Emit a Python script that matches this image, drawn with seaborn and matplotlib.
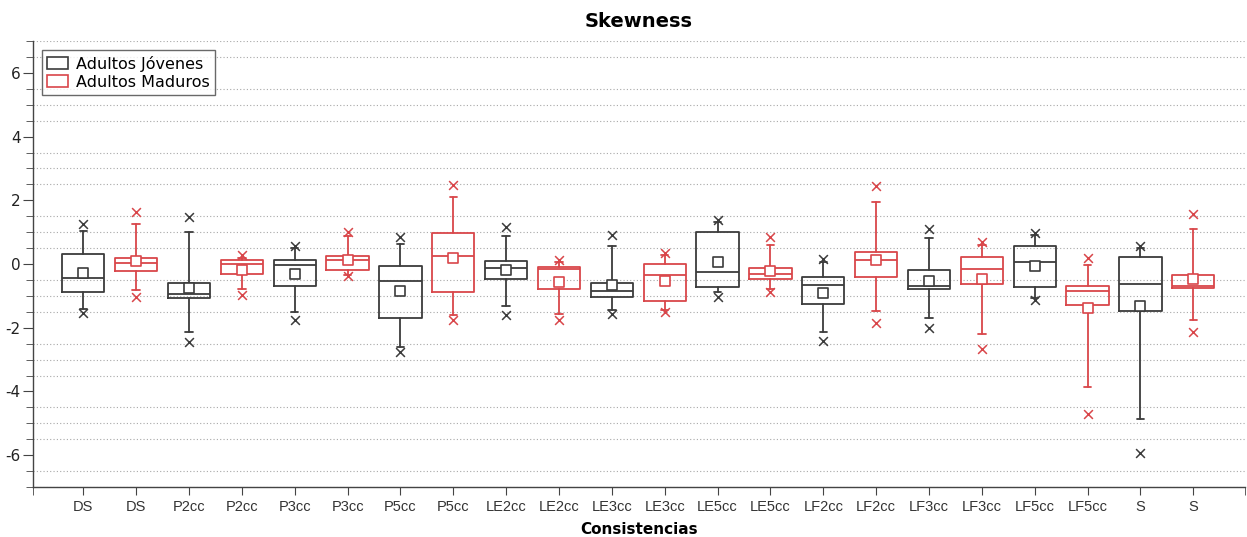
import numpy as np
import pandas as pd
import matplotlib
matplotlib.use("Agg")
import matplotlib.pyplot as plt
from matplotlib.patches import Patch
from matplotlib.ticker import MultipleLocator
import seaborn as sns

categories = ['DS', 'P2cc', 'P3cc', 'P5cc', 'LE2cc', 'LE3cc', 'LE5cc',
              'LF2cc', 'LF3cc', 'LF5cc', 'S']
groups = ['Adultos Jóvenes', 'Adultos Maduros']

# Adultos Jóvenes
jov_max = [1.27, 1.48, 0.58, 0.85, 1.15, 0.90, 1.39, 0.16, 1.11, 0.97, 0.58]
jov_whishi = [1.05, 1.00, 0.50, 0.64, 0.89, 0.55, 1.32, 0.06, 0.82, 0.90, 0.50]
jov_q3 = [0.32, -0.60, 0.13, -0.05, 0.09, -0.60, 0.99, -0.42, -0.20, 0.58, 0.21]
jov_med = [-0.44, -0.93, -0.04, -0.53, -0.11, -0.86, -0.25, -0.67, -0.68, 0.05, -0.62]
jov_mean = [-0.28, -0.75, -0.31, -0.84, -0.20, -0.67, 0.06, -0.91, -0.52, -0.05, -1.33]
jov_q1 = [-0.88, -1.08, -0.68, -1.71, -0.46, -1.04, -0.72, -1.25, -0.79, -0.73, -1.46]
jov_whislo = [-1.41, -2.12, -1.51, -2.59, -1.33, -1.44, -0.89, -2.14, -1.68, -1.07, -4.85]
jov_min = [-1.55, -2.45, -1.75, -2.77, -1.59, -1.56, -1.02, -2.41, -2.01, -1.12, -5.94]

# Adultos Maduros
mad_max = [1.63, 0.27, 1.02, 2.49, 0.14, 0.35, 0.85, 2.44, 0.68, 0.19, 1.58]
mad_whishi = [1.26, 0.20, 0.89, 2.11, 0.07, 0.27, 0.61, 1.94, 0.61, -0.02, 1.11]
mad_q3 = [0.19, 0.14, 0.24, 0.97, -0.10, 0.00, -0.11, 0.39, 0.21, -0.68, -0.34]
mad_med = [0.03, 0.00, 0.14, 0.24, -0.16, -0.34, -0.31, 0.14, -0.15, -0.84, -0.68]
mad_mean = [0.08, -0.18, 0.14, 0.18, -0.56, -0.52, -0.23, 0.12, -0.46, -1.38, -0.47]
mad_q1 = [-0.21, -0.30, -0.18, -0.88, -0.79, -1.15, -0.47, -0.41, -0.62, -1.30, -0.75]
mad_whislo = [-0.81, -0.79, -0.34, -1.59, -1.56, -1.44, -0.78, -1.49, -2.19, -3.87, -1.77]
mad_min = [-1.02, -0.97, -0.39, -1.77, -1.77, -1.51, -0.88, -1.84, -2.66, -4.71, -2.12]

colors = ['#3c3c3c', '#d9464a']

series = [
    dict(mx=jov_max, hi=jov_whishi, q3=jov_q3, med=jov_med, mean=jov_mean,
         q1=jov_q1, lo=jov_whislo, mn=jov_min),
    dict(mx=mad_max, hi=mad_whishi, q3=mad_q3, med=mad_med, mean=mad_mean,
         q1=mad_q1, lo=mad_whislo, mn=mad_min),
]

sns.set_style("ticks")
plt.rcParams['font.family'] = ['DejaVu Sans']
plt.rcParams['axes.unicode_minus'] = False

fig = plt.figure(figsize=(12.47, 5.37), dpi=100)
ax = fig.add_axes([0.0265, 0.0931, 0.972, 0.8305])

n = len(categories)
for g, (s, c) in enumerate(zip(series, colors)):
    pos = np.arange(n) * 2 + g
    stats = []
    for i in range(n):
        stats.append(dict(med=s['med'][i], q1=s['q1'][i], q3=s['q3'][i],
                          whislo=s['lo'][i], whishi=s['hi'][i], fliers=[]))
    lp = dict(color=c, linewidth=1.3)
    ax.bxp(stats, positions=pos, widths=0.8, capwidths=0.14,
           showfliers=False, manage_ticks=False,
           boxprops=lp, whiskerprops=lp, capprops=lp, medianprops=lp)
    df = pd.DataFrame({'pos': np.concatenate([pos, pos]),
                       'val': s['mx'] + s['mn']})
    sns.scatterplot(data=df, x='pos', y='val', marker='x', color=c, s=40,
                    linewidth=1.1, ax=ax, zorder=4, legend=False)
    dm = pd.DataFrame({'pos': pos, 'val': s['mean']})
    sns.scatterplot(data=dm, x='pos', y='val', marker='s', s=45,
                    facecolor='white', edgecolor=c, linewidth=1.2,
                    ax=ax, zorder=5, legend=False)

ax.set_xlim(-0.95, 2 * n - 0.02)
ax.set_ylim(-7, 7)
ax.set_xticks(np.arange(2 * n))
ax.set_xticklabels([cat for cat in categories for _ in range(2)],
                   fontsize=10.5, family='Liberation Sans', color='#333333')
ax.set_xticks([-0.95, 2 * n - 0.02], minor=True)
ax.yaxis.set_major_locator(MultipleLocator(2))
ax.yaxis.set_minor_locator(MultipleLocator(0.5))
ax.tick_params(axis='y', which='major', length=7, labelsize=11, pad=2,
               color='#444444', labelcolor='#222222')
ax.tick_params(axis='y', which='minor', length=5, color='#444444')
ax.tick_params(axis='x', which='both', length=6, color='#444444', pad=3)
ax.grid(True, which='minor', axis='y', linestyle=(0, (1, 2)),
        color='#a8a8a8', linewidth=0.8)
ax.set_axisbelow(True)
for sp in ['top', 'right']:
    ax.spines[sp].set_visible(False)
for sp in ['left', 'bottom']:
    ax.spines[sp].set_color('#444444')
    ax.spines[sp].set_linewidth(1.0)

ax.set_title('Skewness', fontsize=14, fontweight='bold', pad=10, color='black')
ax.set_xlabel('Consistencias', fontsize=11, fontweight='bold', labelpad=6,
              color='black')
ax.set_ylabel('')

handles = [Patch(facecolor='white', edgecolor=c, linewidth=1.2) for c in colors]
leg = ax.legend(handles, groups, loc='upper left', bbox_to_anchor=(0.007, 0.98),
                fontsize=11.5, frameon=True, fancybox=False, edgecolor='#444444',
                handlelength=1.3, handleheight=0.8, handletextpad=0.5,
                borderpad=0.35, labelspacing=0.2, borderaxespad=0)
leg.get_frame().set_linewidth(1.0)
for t in leg.get_texts():
    t.set_color('black')

fig.savefig('out.png', dpi=100)
